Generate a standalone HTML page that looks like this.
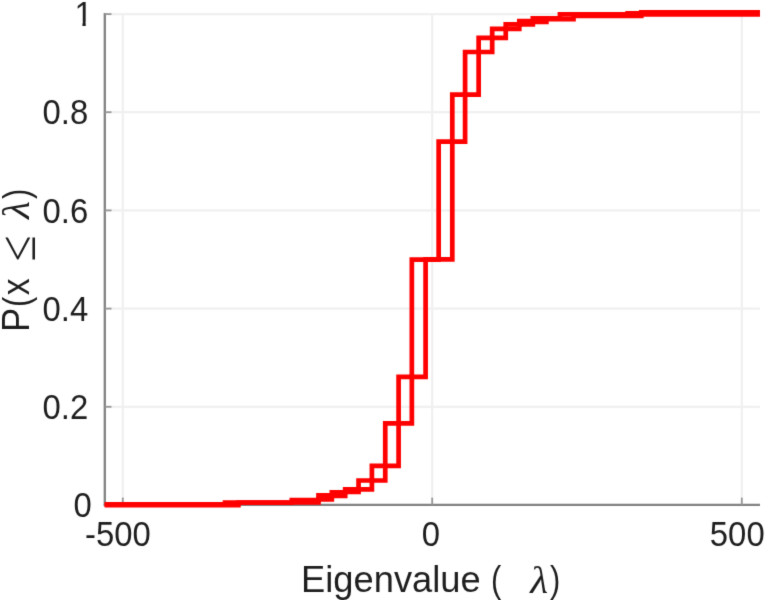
<!DOCTYPE html>
<html lang="en"><head><meta charset="utf-8"><title>Eigenvalue CDF</title>
<style>
html,body{margin:0;padding:0;background:#fff;}
body{width:772px;height:600px;overflow:hidden;}
svg{display:block;}
text{font-family:"Liberation Sans","DejaVu Sans",sans-serif;fill:#1e1e1e;stroke:none;}
.tk text{font-size:32.9px;}
.lb{font-size:36.3px;}
.sym{font-family:"Liberation Serif","DejaVu Serif",serif;font-style:italic;font-size:36.9px;}
.le{font-family:"Liberation Serif","DejaVu Serif",serif;font-size:48px;stroke:none;}
</style></head>
<body>
<svg width="772" height="600" viewBox="0 0 772 600">
<defs><clipPath id="c1" clipPathUnits="userSpaceOnUse"><path d="M60 0H90V22.3H85.7V30H82.45V22.3H82V13H60Z"/></clipPath><filter id="soft" filterUnits="userSpaceOnUse" x="0" y="0" width="772" height="600" color-interpolation-filters="sRGB"><feConvolveMatrix order="3" kernelMatrix="0.0113 0.0838 0.0113 0.0838 0.6193 0.0838 0.0113 0.0838 0.0113" edgeMode="duplicate" preserveAlpha="true"/></filter></defs>
<g filter="url(#soft)">
<rect width="772" height="600" fill="#fff"/>
<g stroke="#f0f0f0" stroke-width="2.2" fill="none"><line x1="122.8" y1="14.1" x2="122.8" y2="504.9"/><line x1="432.2" y1="14.1" x2="432.2" y2="504.9"/><line x1="741.8" y1="14.1" x2="741.8" y2="504.9"/><line x1="105.2" y1="406.8" x2="760.0" y2="406.8"/><line x1="105.2" y1="308.6" x2="760.0" y2="308.6"/><line x1="105.2" y1="210.4" x2="760.0" y2="210.4"/><line x1="105.2" y1="112.2" x2="760.0" y2="112.2"/><line x1="105.2" y1="14.1" x2="760.0" y2="14.1"/></g>
<g stroke="#828282" stroke-width="2.3" fill="none"><line x1="104.8" y1="13.1" x2="104.8" y2="505.9"/><line x1="103.8" y1="504.95" x2="760.0" y2="504.95"/></g>
<g stroke="#979797" stroke-width="1.8" fill="none"><line x1="122.8" y1="504.9" x2="122.8" y2="497.6"/><line x1="432.2" y1="504.9" x2="432.2" y2="497.6"/><line x1="741.8" y1="504.9" x2="741.8" y2="497.6"/><line x1="104.8" y1="504.9" x2="111.5" y2="504.9"/><line x1="104.8" y1="406.8" x2="111.5" y2="406.8"/><line x1="104.8" y1="308.6" x2="111.5" y2="308.6"/><line x1="104.8" y1="210.4" x2="111.5" y2="210.4"/><line x1="104.8" y1="112.2" x2="111.5" y2="112.2"/><line x1="104.8" y1="14.1" x2="111.5" y2="14.1"/></g>
<g fill="none" stroke="#ff0000" stroke-width="4.7" stroke-linejoin="miter" stroke-linecap="butt">
<path d="M104.60 505.15 L238.40 505.15 L238.40 502.50 L318.50 502.50 L318.50 499.35 L331.85 499.35 L331.85 496.00 L345.20 496.00 L345.20 491.90 L358.55 491.90 L358.55 489.30 L371.90 489.30 L371.90 480.50 L385.25 480.50 L385.25 465.80 L398.60 465.80 L398.60 423.30 L411.85 423.30 L411.85 376.80 L425.60 376.80 L425.60 259.30 L452.30 259.30 L452.30 141.60 L465.10 141.60 L465.10 94.70 L478.65 94.70 L478.65 52.00 L492.20 52.00 L492.20 37.90 L505.75 37.90 L505.75 28.80 L519.30 28.80 L519.30 24.30 L532.85 24.30 L532.85 22.00 L546.40 22.00 L546.40 19.10 L573.50 19.10 L573.50 15.85 L641.25 15.85 L641.25 14.45 L760.00 14.45"/>
<path d="M104.60 504.35 L225.05 504.35 L225.05 502.55 L291.80 502.55 L291.80 500.00 L318.50 500.00 L318.50 495.45 L331.85 495.45 L331.85 492.25 L345.20 492.25 L345.20 489.30 L358.55 489.30 L358.55 480.50 L371.90 480.50 L371.90 465.80 L385.25 465.80 L385.25 423.30 L398.60 423.30 L398.60 376.80 L411.85 376.80 L411.85 259.70 L438.65 259.70 L438.65 141.60 L452.30 141.60 L452.30 94.70 L465.10 94.70 L465.10 52.00 L478.65 52.00 L478.65 37.90 L492.20 37.90 L492.20 28.80 L505.75 28.80 L505.75 24.30 L519.30 24.30 L519.30 21.20 L532.85 21.20 L532.85 18.30 L559.95 18.30 L559.95 14.45 L627.70 14.45 L627.70 13.40 L641.25 13.40 L641.25 12.40 L760.00 12.40"/>
</g>
<g class="tk"><text transform="translate(91.80 517.00) scale(1 1.065)" text-anchor="end">0</text><text transform="translate(88.20 418.95) scale(1 1.065)" text-anchor="end">0.2</text><text transform="translate(88.20 320.80) scale(1 1.065)" text-anchor="end">0.4</text><text transform="translate(88.20 222.55) scale(1 1.065)" text-anchor="end">0.6</text><text transform="translate(88.20 124.15) scale(1 1.065)" text-anchor="end">0.8</text><g clip-path="url(#c1)"><text transform="translate(92.80 25.75) scale(1 1.065)" text-anchor="end">1</text></g><text transform="translate(117.85 546.05) scale(1 1.065)" text-anchor="middle">-500</text><text transform="translate(430.85 546.05) scale(1 1.065)" text-anchor="middle">0</text><text transform="translate(737.25 546.05) scale(1 1.065)" text-anchor="middle">500</text></g>
<text class="lb" transform="translate(301.1 592.3) scale(1 1.035)">Eigenvalue</text>
<text class="lb" transform="translate(491.1 592.3) scale(0.85 1.035)">(</text>
<text class="sym" transform="translate(530.2 592.5) scale(1.12 1)">λ</text>
<text class="lb" transform="translate(549.9 592.3) scale(0.85 1.035)">)</text>
<g transform="translate(28.6 332) rotate(-90)">
<text class="lb" transform="scale(1 1.062)">P</text>
<text class="lb" transform="translate(25.1 0) scale(0.85 1.035)">(</text>
<text class="lb" transform="translate(36.7 0) scale(0.93 1.062)">x</text>
<text class="le" transform="translate(70.6 6.4) scale(0.99 1.08)">≤</text>
<text class="sym" transform="translate(113 0.2) scale(1.12 1)">λ</text>
<text class="lb" transform="translate(133.1 0) scale(0.85 1.035)">)</text>
</g>
</g>
</svg>
</body></html>
